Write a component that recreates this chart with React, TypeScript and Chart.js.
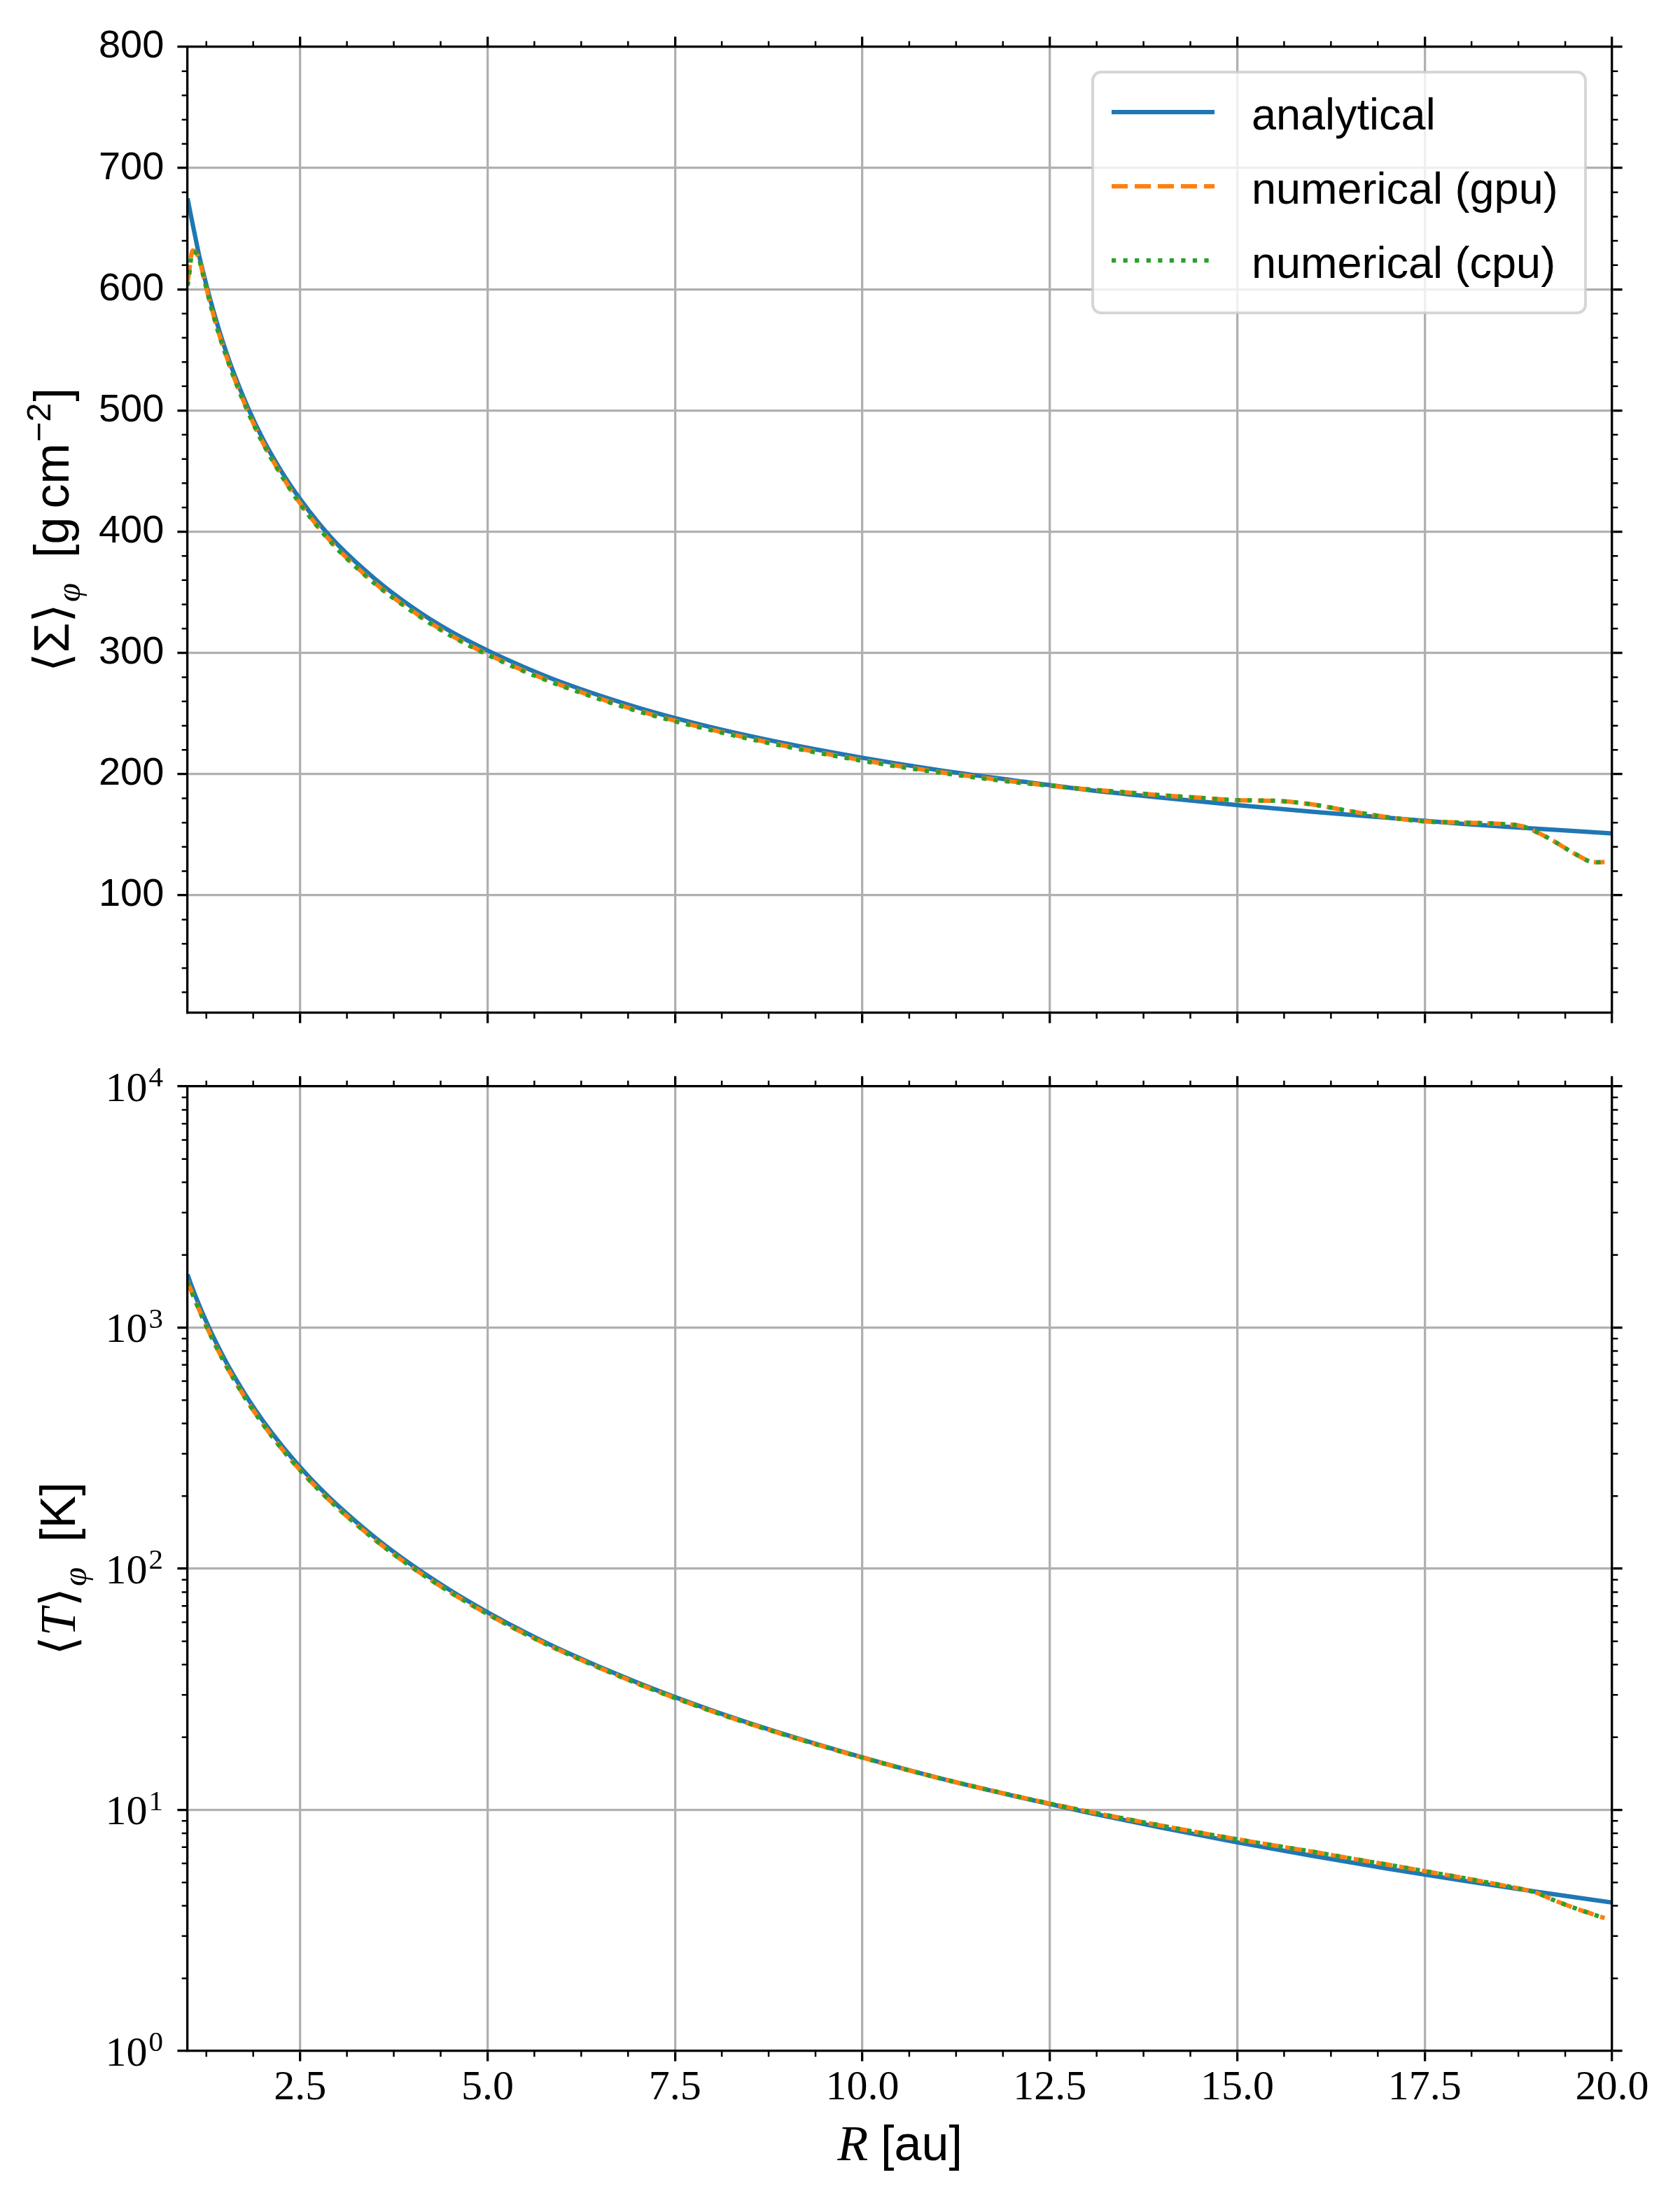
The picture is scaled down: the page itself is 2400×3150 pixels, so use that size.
import React, { useEffect, useRef } from 'react';
import { Chart, registerables } from 'chart.js';

Chart.register(...registerables);

// ---------------- data ----------------
const R_ANALYTIC = [1, 1.05, 1.1, 1.15, 1.2, 1.3, 1.4, 1.5, 1.6, 1.8, 2, 2.25, 2.5, 2.75, 3, 3.5, 4, 4.5, 5, 5.5, 6, 7, 8, 9, 10, 11, 12, 13, 14, 15, 16, 17, 18, 19, 20];
const SIGMA_ANALYTIC = [675, 659, 644, 629, 616, 592, 570.5, 551, 533.5, 503, 477, 450, 427, 407, 389.5, 361, 337.5, 318, 302, 288, 275.5, 255, 238.5, 225, 213.5, 203.5, 195, 187, 180.5, 174.5, 169, 164, 159, 155, 151];
const T_ANALYTIC = [1660, 1497, 1364, 1248, 1146, 976, 842, 733, 645, 509, 412.5, 326, 264, 218, 183.3, 134.7, 103.1, 81.5, 66, 54.5, 45.8, 33.7, 25.8, 20.4, 16.5, 13.6, 11.46, 9.76, 8.42, 7.33, 6.45, 5.71, 5.09, 4.57, 4.125];

const R_NUM = [1.0, 1.02, 1.04, 1.07, 1.1, 1.15, 1.2, 1.3, 1.4, 1.5, 1.6, 1.8, 2, 2.25, 2.5, 2.75, 3, 3.5, 4, 4.5, 5, 5.5, 6, 7, 8, 9, 10, 11, 12, 12.5, 13, 13.5, 14, 14.5, 15, 15.5, 16, 16.5, 17, 17.5, 18, 18.5, 18.8, 19, 19.2, 19.4, 19.6, 19.7, 19.8, 19.9];
const SIGMA_GPU = [607, 614, 625, 632, 631, 626, 614, 589, 567, 548, 530.5, 500, 474, 447, 423.5, 403.5, 386, 357.5, 334.5, 315, 299, 285, 273, 252.5, 236.5, 223, 211.5, 202, 194, 190.5, 187.5, 185, 182.5, 180.5, 178.5, 178, 175, 169.5, 164.5, 161, 160, 159, 157, 152, 145.5, 138, 131, 128, 127.3, 127.5];
const SIGMA_CPU = [603, 611, 623, 630.5, 630.5, 625.5, 613.5, 588.5, 566.5, 547.5, 530, 499.5, 473.5, 446.5, 423, 403, 385.5, 357, 334, 314.5, 298.5, 284.5, 272.5, 252, 236, 222.5, 211, 201.5, 193.5, 190.5, 187.5, 185, 182.5, 180.5, 178.5, 178, 175, 169.5, 164.5, 161, 160, 159, 157, 152, 145.5, 138, 131, 128, 127.3, 127.5];
const T_GPU = [1560, 1491, 1441, 1369, 1298, 1192, 1098, 939, 812, 708, 624, 493, 400, 316, 256.6, 212.3, 178.9, 131.7, 101, 80, 64.9, 53.7, 45.3, 33.4, 25.6, 20.3, 16.47, 13.6, 11.49, 10.62, 9.86, 9.19, 8.59, 8.04, 7.55, 7.11, 6.71, 6.3, 5.93, 5.57, 5.23, 4.89, 4.69, 4.52, 4.25, 4.02, 3.82, 3.73, 3.64, 3.56];
const T_CPU = [1548, 1482, 1436, 1366, 1296, 1190, 1097, 938.5, 811.5, 707.5, 623.5, 492.5, 399.5, 316, 256.4, 212.2, 178.8, 131.7, 101, 80, 64.9, 53.7, 45.3, 33.4, 25.6, 20.3, 16.47, 13.6, 11.49, 10.62, 9.86, 9.19, 8.59, 8.04, 7.55, 7.11, 6.71, 6.3, 5.93, 5.57, 5.23, 4.89, 4.69, 4.52, 4.25, 4.02, 3.82, 3.73, 3.64, 3.56];

const LABELS = ['analytical', 'numerical (gpu)', 'numerical (cpu)'];

// ticks
const X_MAJOR = [2.5, 5, 7.5, 10, 12.5, 15, 17.5, 20];
const X_MINOR = [1.25, 1.875, 3.125, 3.75, 4.375, 5.625, 6.25, 6.875, 8.125, 8.75, 9.375, 10.625, 11.25, 11.875, 13.125, 13.75, 14.375, 15.625, 16.25, 16.875, 18.125, 18.75, 19.375];
const SIGMA_MAJOR = [100, 200, 300, 400, 500, 600, 700, 800];
const SIGMA_MINOR = [20, 40, 60, 80, 120, 140, 160, 180, 220, 240, 260, 280, 320, 340, 360, 380, 420, 440, 460, 480, 520, 540, 560, 580, 620, 640, 660, 680, 720, 740, 760, 780];
const T_MAJOR = [1, 10, 100, 1000, 10000];
const T_MINOR = [2, 3, 4, 5, 6, 7, 8, 9, 20, 30, 40, 50, 60, 70, 80, 90, 200, 300, 400, 500, 600, 700, 800, 900, 2000, 3000, 4000, 5000, 6000, 7000, 8000, 9000];

// ---------------- styles ----------------
const BLUE = '#1f77b4';
const ORANGE = '#ff7f0e';
const GREEN = '#2ca02c';
const SANS = '"Liberation Sans", Arial, sans-serif';
const SERIF = '"Liberation Serif", "Times New Roman", serif';
const MATH = '"DejaVu Sans", sans-serif';

const W = 2400;
const TOP_H = 1500;
const BOT_H = 1650;
const LW = 6.25;

const toPts = (xs: number[], ys: number[]) => xs.map((x, i) => ({ x, y: ys[i] }));

function makeDatasets(a: number[], g: number[], c: number[]) {
  return [
    { label: LABELS[0], data: toPts(R_ANALYTIC, a), borderColor: BLUE, borderWidth: LW, borderDash: [], order: 3 },
    { label: LABELS[1], data: toPts(R_NUM, g), borderColor: ORANGE, borderWidth: LW, borderDash: [23, 10], order: 2 },
    { label: LABELS[2], data: toPts(R_NUM, c), borderColor: GREEN, borderWidth: LW, borderDash: [6.25, 10.3], order: 1 },
  ].map((d) => ({ ...d, pointRadius: 0, fill: false, cubicInterpolationMode: 'monotone' as const, borderCapStyle: 'butt' as const, borderJoinStyle: 'round' as const }));
}

const GRID = { color: '#b0b0b0', lineWidth: 3.3, tickLength: 14.6, tickColor: '#000', tickWidth: 3.3, drawTicks: true };
const BORDER = { display: true, color: '#000', width: 3.3, z: 1 };

function setTicks(vals: number[]) {
  return (scale: any) => {
    scale.ticks = vals.map((v) => ({ value: v }));
  };
}

function fixSize(prop: 'width' | 'height', v: number) {
  return (scale: any) => {
    scale[prop] = v;
  };
}

type Piece = { t: string; font: string; dx?: number; dy?: number };
function piecesWidth(ctx: CanvasRenderingContext2D, ps: Piece[]) {
  let w = 0;
  for (const p of ps) {
    ctx.font = p.font;
    w += (p.dx || 0) + ctx.measureText(p.t).width;
  }
  return w;
}
function drawPieces(ctx: CanvasRenderingContext2D, x: number, y: number, ps: Piece[]) {
  let cx = x;
  for (const p of ps) {
    ctx.font = p.font;
    cx += p.dx || 0;
    ctx.fillText(p.t, cx, y + (p.dy || 0));
    cx += ctx.measureText(p.t).width;
  }
}
function drawRotatedTitle(ctx: CanvasRenderingContext2D, baseX: number, cy: number, ps: Piece[]) {
  ctx.save();
  ctx.translate(baseX, cy);
  ctx.rotate(-Math.PI / 2);
  ctx.fillStyle = '#000';
  ctx.textAlign = 'left';
  ctx.textBaseline = 'alphabetic';
  const w = piecesWidth(ctx, ps);
  drawPieces(ctx, -w / 2, 0, ps);
  ctx.restore();
}

function minorTicks(xMinor: number[], yMinor: number[]) {
  return {
    id: 'minorTicks',
    afterDraw(chart: any) {
      const { ctx, chartArea: a, scales } = chart;
      const L = 8.3;
      ctx.save();
      ctx.strokeStyle = '#000';
      ctx.lineWidth = 2.5;
      ctx.lineCap = 'butt';
      ctx.beginPath();
      for (const v of xMinor) {
        const px = scales.x.getPixelForValue(v);
        ctx.moveTo(px, a.bottom);
        ctx.lineTo(px, a.bottom + L);
        ctx.moveTo(px, a.top);
        ctx.lineTo(px, a.top - L);
      }
      for (const v of yMinor) {
        const py = scales.y.getPixelForValue(v);
        ctx.moveTo(a.left, py);
        ctx.lineTo(a.left - L, py);
        ctx.moveTo(a.right, py);
        ctx.lineTo(a.right + L, py);
      }
      ctx.stroke();
      ctx.restore();
    },
  };
}

const legendPlugin = {
  id: 'boxLegend',
  afterDraw(chart: any) {
    const ctx: CanvasRenderingContext2D = chart.ctx;
    const x0 = 1561, y0 = 103, w = 704, h = 344, r = 12;
    ctx.save();
    ctx.beginPath();
    ctx.moveTo(x0 + r, y0);
    ctx.arcTo(x0 + w, y0, x0 + w, y0 + h, r);
    ctx.arcTo(x0 + w, y0 + h, x0, y0 + h, r);
    ctx.arcTo(x0, y0 + h, x0, y0, r);
    ctx.arcTo(x0, y0, x0 + w, y0, r);
    ctx.closePath();
    ctx.fillStyle = 'rgba(255,255,255,0.8)';
    ctx.fill();
    ctx.strokeStyle = 'rgba(204,204,204,0.8)';
    ctx.lineWidth = 4;
    ctx.stroke();
    const rows = [160, 266, 372];
    chart.data.datasets.forEach((ds: any, i: number) => {
      const y = rows[i];
      ctx.beginPath();
      ctx.setLineDash(ds.borderDash || []);
      ctx.lineCap = 'butt';
      ctx.strokeStyle = ds.borderColor;
      ctx.lineWidth = ds.borderWidth;
      ctx.moveTo(1588, y);
      ctx.lineTo(1735, y);
      ctx.stroke();
      ctx.setLineDash([]);
      ctx.fillStyle = '#000';
      ctx.font = `63px ${SANS}`;
      ctx.textAlign = 'left';
      ctx.textBaseline = 'alphabetic';
      ctx.fillText(ds.label, 1788, y + 25);
    });
    ctx.restore();
  },
};

const topTitlePlugin = {
  id: 'topTitle',
  afterDraw(chart: any) {
    const a = chart.chartArea;
    const cy = (a.top + a.bottom) / 2;
    drawRotatedTitle(chart.ctx, 98, cy, [
      { t: '⟨', font: `70px ${MATH}` },
      { t: 'Σ', font: `70px ${SANS}` },
      { t: '⟩', font: `70px ${MATH}` },
      { t: 'φ', font: `italic 49px ${SERIF}`, dy: 16, dx: 2 },
      { t: '[', font: `70px ${SANS}`, dx: 36 },
      { t: 'g', font: `70px ${SANS}` },
      { t: 'cm', font: `70px ${SANS}`, dx: 12 },
      { t: '−2', font: `49px ${SANS}`, dy: -26, dx: 2 },
      { t: ']', font: `70px ${SANS}`, dx: 2 },
    ]);
  },
};

const bottomTextPlugin = {
  id: 'bottomText',
  afterDraw(chart: any) {
    const ctx: CanvasRenderingContext2D = chart.ctx;
    const a = chart.chartArea;
    const ys = chart.scales.y;
    ctx.save();
    ctx.fillStyle = '#000';
    ctx.textBaseline = 'alphabetic';
    ctx.textAlign = 'right';
    for (const v of T_MAJOR) {
      const py = ys.getPixelForValue(v);
      const exp = String(Math.round(Math.log10(v)));
      ctx.font = `41px ${SERIF}`;
      const ew = ctx.measureText(exp).width;
      ctx.fillText(exp, 233, py);
      ctx.font = `60px ${SERIF}`;
      ctx.fillText('10', 233 - ew - 2, py + 20.5);
    }
    ctx.restore();
    drawRotatedTitle(ctx, 107, (a.top + a.bottom) / 2, [
      { t: '⟨', font: `70px ${MATH}` },
      { t: 'T', font: `italic 72px ${SERIF}` },
      { t: '⟩', font: `70px ${MATH}`, dx: 2 },
      { t: 'φ', font: `italic 49px ${SERIF}`, dy: 16, dx: 2 },
      { t: '[K]', font: `70px ${SANS}`, dx: 36 },
    ]);
    const xt: Piece[] = [
      { t: 'R', font: `italic 72px ${SERIF}` },
      { t: '[au]', font: `70px ${SANS}`, dx: 18 },
    ];
    ctx.save();
    ctx.fillStyle = '#000';
    ctx.textAlign = 'left';
    ctx.textBaseline = 'alphabetic';
    const tw = piecesWidth(ctx, xt);
    drawPieces(ctx, (a.left + a.right) / 2 - tw / 2, 1586, xt);
    ctx.restore();
  },
};

function baseOptions() {
  return {
    responsive: false,
    maintainAspectRatio: false,
    animation: false as const,
    devicePixelRatio: 1,
    layout: { padding: 0 },
    plugins: { legend: { display: false }, tooltip: { enabled: false } },
    events: [] as any[],
  };
}

export default function App() {
  const topRef = useRef<HTMLCanvasElement>(null);
  const botRef = useRef<HTMLCanvasElement>(null);

  useEffect(() => {
    const top = new Chart(topRef.current!, {
      type: 'line',
      data: { datasets: makeDatasets(SIGMA_ANALYTIC, SIGMA_GPU, SIGMA_CPU) as any },
      options: {
        ...baseOptions(),
        scales: {
          x: {
            type: 'linear', position: 'bottom', min: 1, max: 20, weight: 1,
            afterBuildTicks: setTicks(X_MAJOR), afterFit: fixSize('height', TOP_H - 1447),
            ticks: { display: false, autoSkip: false },
            grid: GRID, border: BORDER,
          },
          x2: {
            type: 'linear', position: 'top', min: 1, max: 20,
            afterBuildTicks: setTicks(X_MAJOR), afterFit: fixSize('height', 67),
            ticks: { display: false, autoSkip: false },
            grid: { ...GRID, drawOnChartArea: false }, border: BORDER,
          },
          y: {
            type: 'linear', position: 'left', min: 3, max: 800,
            afterBuildTicks: setTicks(SIGMA_MAJOR), afterFit: fixSize('width', 268),
            ticks: { color: '#000', font: { family: SANS, size: 56 }, padding: 19, autoSkip: false },
            grid: GRID, border: BORDER,
          },
          y2: {
            type: 'linear', position: 'right', min: 3, max: 800,
            afterBuildTicks: setTicks(SIGMA_MAJOR), afterFit: fixSize('width', W - 2303),
            ticks: { display: false },
            grid: { ...GRID, drawOnChartArea: false }, border: BORDER,
          },
        },
      } as any,
      plugins: [minorTicks(X_MINOR, SIGMA_MINOR), topTitlePlugin, legendPlugin],
    });

    const bot = new Chart(botRef.current!, {
      type: 'line',
      data: { datasets: makeDatasets(T_ANALYTIC, T_GPU, T_CPU) as any },
      options: {
        ...baseOptions(),
        scales: {
          x: {
            type: 'linear', position: 'bottom', min: 1, max: 20,
            afterBuildTicks: setTicks(X_MAJOR), afterFit: fixSize('height', BOT_H - 1430),
            ticks: { color: '#000', font: { family: SERIF, size: 60 }, padding: 3, autoSkip: false, maxRotation: 0, callback: (v: any) => Number(v).toFixed(1) },
            grid: GRID, border: BORDER,
          },
          x2: {
            type: 'linear', position: 'top', min: 1, max: 20,
            afterBuildTicks: setTicks(X_MAJOR), afterFit: fixSize('height', 52),
            ticks: { display: false, autoSkip: false },
            grid: { ...GRID, drawOnChartArea: false }, border: BORDER,
          },
          y: {
            type: 'logarithmic', position: 'left', min: 1, max: 10000,
            afterBuildTicks: setTicks(T_MAJOR), afterFit: fixSize('width', 268),
            ticks: { display: false, autoSkip: false },
            grid: GRID, border: BORDER,
          },
          y2: {
            type: 'logarithmic', position: 'right', min: 1, max: 10000,
            afterBuildTicks: setTicks(T_MAJOR), afterFit: fixSize('width', W - 2303),
            ticks: { display: false },
            grid: { ...GRID, drawOnChartArea: false }, border: BORDER,
          },
        },
      } as any,
      plugins: [minorTicks(X_MINOR, T_MINOR), bottomTextPlugin],
    });

    return () => {
      top.destroy();
      bot.destroy();
    };
  }, []);

  return (
    <div style={{ position: 'absolute', left: 0, top: 0, width: W, height: TOP_H + BOT_H, background: '#fff', overflow: 'hidden' }}>
      <canvas ref={topRef} width={W} height={TOP_H} style={{ position: 'absolute', left: 0, top: 0, width: W, height: TOP_H }} />
      <canvas ref={botRef} width={W} height={BOT_H} style={{ position: 'absolute', left: 0, top: TOP_H, width: W, height: BOT_H }} />
    </div>
  );
}
